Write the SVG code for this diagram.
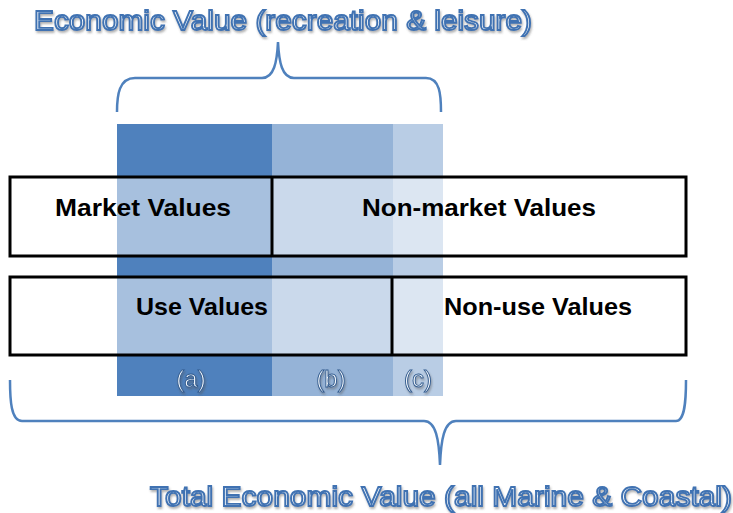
<svg xmlns="http://www.w3.org/2000/svg" width="733" height="513" viewBox="0 0 733 513">
<defs>
<style>
.title{font-family:"Liberation Sans",Arial,sans-serif;font-size:28px;fill:#ffffff;stroke:#3F72B2;stroke-width:1.8px}
.lbl{font-family:"Liberation Sans",Arial,sans-serif;font-weight:bold;font-size:24px;fill:#000000}
.col{font-family:"Liberation Sans",Arial,sans-serif;font-size:24px;fill:#f2f6fb;stroke:#2f5a8e;stroke-width:0.9px}
.box{fill:#ffffff;fill-opacity:0.5;stroke:#000000;stroke-width:3}
.div{stroke:#000000;stroke-width:3}
.brace{fill:none;stroke:#4F81BD;stroke-width:2.5}
</style>
<filter id="sh" x="-5%" y="-20%" width="110%" height="150%">
<feDropShadow dx="1" dy="2" stdDeviation="1" flood-color="#555555" flood-opacity="0.45"/>
</filter>
</defs>
<rect width="733" height="513" fill="#ffffff"/>
<g id="columns">
<rect x="117" y="124" width="155" height="272" fill="#4F81BD"/>
<rect x="272" y="124" width="121" height="272" fill="#95B3D7"/>
<rect x="393" y="124" width="50" height="272" fill="#B9CDE5"/>
</g>
<g id="row1">
<rect class="box" x="10" y="177" width="676" height="79"/>
<line class="div" x1="272" y1="177" x2="272" y2="256"/>
<text class="lbl" x="143" y="216" text-anchor="middle" textLength="176" lengthAdjust="spacingAndGlyphs">Market Values</text>
<text class="lbl" x="479" y="216" text-anchor="middle" textLength="234" lengthAdjust="spacingAndGlyphs">Non-market Values</text>
</g>
<g id="row2">
<rect class="box" x="10" y="277" width="676" height="78"/>
<line class="div" x1="392" y1="277" x2="392" y2="355"/>
<text class="lbl" x="202" y="315" text-anchor="middle" textLength="132" lengthAdjust="spacingAndGlyphs">Use Values</text>
<text class="lbl" x="538" y="315" text-anchor="middle" textLength="188" lengthAdjust="spacingAndGlyphs">Non-use Values</text>
</g>
<g id="col-labels" filter="url(#sh)">
<text class="col" x="191" y="387" text-anchor="middle">(a)</text>
<text class="col" x="331" y="387" text-anchor="middle">(b)</text>
<text class="col" x="418" y="387" text-anchor="middle">(c)</text>
</g>
<g id="connectors">
<path class="brace" d="M117,112 C117,95 119,78 135,78 L262,78 C274,78 277,62 278,42 C279,62 282,78 294,78 L426,78 C440,78 441,95 441,112"/>
<path class="brace" d="M10,380 C10,400 11,421 22,421 L424,421 C436,421 439,440 440,465 C441,440 444,421 456,421 L676,421 C685,421 686,400 686,380"/>
</g>
<g id="titles" filter="url(#sh)">
<text class="title" x="283" y="30" text-anchor="middle" textLength="498" lengthAdjust="spacingAndGlyphs">Economic Value (recreation &amp; leisure)</text>
<text class="title" x="441" y="506" text-anchor="middle" textLength="582" lengthAdjust="spacingAndGlyphs">Total Economic Value (all Marine &amp; Coastal)</text>
</g>
</svg>
